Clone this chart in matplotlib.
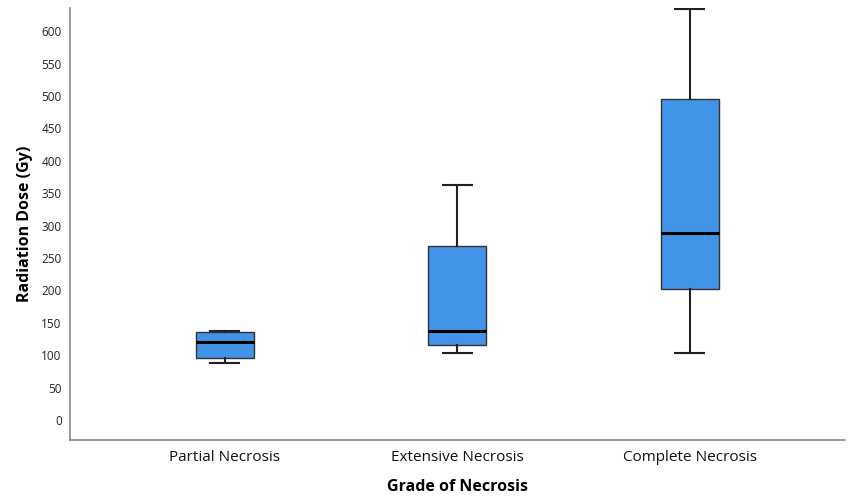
import matplotlib
matplotlib.use("Agg")
import matplotlib.pyplot as plt

categories = ["Partial Necrosis", "Extensive Necrosis", "Complete Necrosis"]
whisker_low = [88, 104, 104]
q1 = [96, 116, 202]
median = [120, 137, 289]
q3 = [136, 268, 495]
whisker_high = [137, 363, 635]
yticks = list(range(0, 601, 50))

plt.rcParams['font.family'] = ['Open Sans', 'DejaVu Sans']

fig = plt.figure(figsize=(8.48, 4.99), dpi=100)
ax = fig.add_axes([0.0825, 0.118, 0.9135, 0.866])

stats = []
for i, c in enumerate(categories):
    stats.append(dict(label=c, whislo=whisker_low[i], q1=q1[i], med=median[i],
                      q3=q3[i], whishi=whisker_high[i], fliers=[]))

ax.bxp(stats, positions=range(len(categories)), widths=0.25, patch_artist=True,
       showfliers=False,
       boxprops=dict(facecolor='#4294E8', edgecolor='#333333', linewidth=1.0),
       medianprops=dict(color='black', linewidth=2.2),
       whiskerprops=dict(color='#222222', linewidth=1.5),
       capprops=dict(color='#222222', linewidth=1.5),
       capwidths=0.125)

ax.set_xlim(-0.667, 2.667)
ax.set_ylim(-31, 636)
ax.set_yticks(yticks)
ax.set_yticklabels([str(v) for v in yticks])
ax.tick_params(axis='y', length=0, labelsize=8.5, colors='#222222', pad=6)
ax.tick_params(axis='x', length=0, labelsize=11, colors='#111111', pad=7)
for s in ['top', 'right']:
    ax.spines[s].set_visible(False)
for s in ['left', 'bottom']:
    ax.spines[s].set_color('#888888')
    ax.spines[s].set_linewidth(1.2)

ax.set_ylabel("Radiation Dose (Gy)", fontsize=11.5, fontweight='bold', labelpad=6)
ax.set_xlabel("Grade of Necrosis", fontsize=11.5, fontweight='bold', labelpad=10)

fig.savefig("out.png", dpi=100)
